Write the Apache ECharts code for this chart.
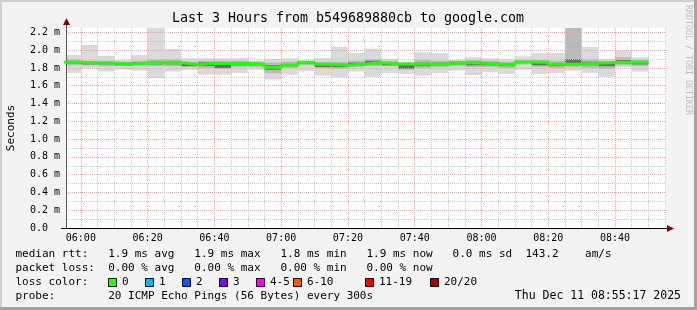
<!DOCTYPE html>
<html>
<head>
<meta charset="utf-8">
<script src="https://cdn.jsdelivr.net/npm/echarts@6/dist/echarts.min.js"></script>
<style>html,body{margin:0;padding:0;background:#f3f3f3}#c{width:697px;height:310px}</style>
</head>
<body>
<div id="c"></div>
<script>
// ---- data (ms) ----
const stepStart = ['05:55','06:00','06:05','06:10','06:15','06:20','06:25','06:30','06:35','06:40','06:45','06:50','06:55',
  '07:00','07:05','07:10','07:15','07:20','07:25','07:30','07:35','07:40','07:45','07:50','07:55',
  '08:00','08:05','08:10','08:15','08:20','08:25','08:30','08:35','08:40','08:45'];
const stepEnd = '08:50';
const median = [1.864,1.858,1.856,1.845,1.856,1.858,1.860,1.838,1.852,1.850,1.852,1.842,1.807,1.830,1.864,1.841,1.830,1.845,1.860,1.845,1.845,1.845,1.845,1.860,1.856,1.845,1.830,1.867,1.864,1.841,1.845,1.852,1.860,1.864,1.864];
const smokeMax = [1.946,2.058,1.935,1.890,1.946,2.250,2.013,1.909,1.909,1.909,1.909,1.882,1.900,1.909,1.882,1.909,2.036,1.968,2.017,1.900,1.871,1.976,1.968,1.890,1.920,1.909,1.900,1.930,1.968,1.968,2.250,2.036,1.900,1.995,1.920];
const smokeMin = [1.744,1.800,1.759,1.780,1.770,1.684,1.759,1.780,1.725,1.725,1.744,1.780,1.669,1.725,1.763,1.714,1.695,1.759,1.700,1.740,1.733,1.714,1.740,1.770,1.720,1.751,1.733,1.780,1.733,1.740,1.770,1.744,1.700,1.807,1.759];
const midHi = [1.900,1.880,1.880,1.870,1.880,1.900,1.900,1.870,1.880,1.880,1.880,1.870,1.860,1.870,1.880,1.870,1.870,1.880,1.900,1.880,1.860,1.890,1.880,1.880,1.890,1.880,1.870,1.890,1.890,1.880,2.250,1.900,1.880,1.920,1.890];
const midLo = [1.830,1.830,1.820,1.820,1.820,1.820,1.820,1.810,1.800,1.790,1.810,1.810,1.740,1.800,1.830,1.800,1.790,1.810,1.820,1.820,1.780,1.800,1.810,1.820,1.810,1.810,1.800,1.840,1.810,1.800,1.810,1.800,1.790,1.830,1.820];
const innerHi = [1.875,1.865,1.865,1.855,1.865,1.870,1.875,1.850,1.865,1.860,1.860,1.850,1.830,1.845,1.870,1.855,1.845,1.860,1.880,1.860,1.835,1.860,1.860,1.870,1.870,1.860,1.850,1.875,1.875,1.855,1.900,1.870,1.865,1.890,1.875];
const innerLo = [1.850,1.840,1.840,1.830,1.840,1.840,1.840,1.820,1.820,1.800,1.830,1.830,1.780,1.820,1.850,1.810,1.810,1.830,1.840,1.830,1.790,1.820,1.830,1.840,1.830,1.830,1.820,1.855,1.830,1.820,1.830,1.830,1.820,1.850,1.840];
const xTickLabels = ['06:00','06:20','06:40','07:00','07:20','07:40','08:00','08:20','08:40'];
const xGridTimes = ['06:00','06:05','06:10','06:15','06:20','06:25','06:30','06:35','06:40','06:45','06:50','06:55',
  '07:00','07:05','07:10','07:15','07:20','07:25','07:30','07:35','07:40','07:45','07:50','07:55',
  '08:00','08:05','08:10','08:15','08:20','08:25','08:30','08:35','08:40','08:45','08:50','08:55'];
const yTicks = [0,0.2,0.4,0.6,0.8,1.0,1.2,1.4,1.6,1.8,2.0,2.2];
const yGrid = [0,0.1,0.2,0.3,0.4,0.5,0.6,0.7,0.8,0.9,1.0,1.1,1.2,1.3,1.4,1.5,1.6,1.7,1.8,1.9,2.0,2.1,2.2];
const xRange = ['05:55:33','08:55:17'];
const yMax = 2.249;

// ---- helpers ----
function toMin(s){const p=s.split(':').map(Number);return p[0]*60+p[1]+(p[2]||0)/60;}
function fmtMin(v){const h=Math.floor(v/60+1e-6),m=Math.round(v-h*60);return String(h).padStart(2,'0')+':'+String(m).padStart(2,'0');}
const starts = stepStart.map(toMin);
const ends = starts.slice(1).concat([toMin(stepEnd)]);
function band(lo,hi){return starts.map((s,i)=>[s,ends[i],lo[i],hi[i]]);}
function rectRender(color){
  return function(params, api){
    const a = api.coord([api.value(0), api.value(3)]);
    const b = api.coord([api.value(1), api.value(2)]);
    return {type:'rect', shape:{x:a[0], y:a[1], width:b[0]-a[0], height:b[1]-a[1]}, style:{fill:color}};
  };
}
const medianData = starts.map((s,i)=>[s, median[i]]).concat([[ends[ends.length-1], median[median.length-1]]]);

const FONT = 'DejaVu Sans Mono';
const MGRID = '#f0a0a0';
const GRID = '#c8c8c8';
const xmin = toMin(xRange[0]), xmax = toMin(xRange[1]);

const chart = echarts.init(document.getElementById('c'), null, {renderer:'canvas'});
const L = 66, T = 28, W = 600, H = 200;

const lossItems = [
  {x:108.5, c:'#26ff00', t:'0'},
  {x:145.5, c:'#00b8ff', t:'1'},
  {x:182.5, c:'#0059ff', t:'2'},
  {x:219.5, c:'#7e00ff', t:'3'},
  {x:256.5, c:'#ff00ff', t:'4-5'},
  {x:293.5, c:'#ff5500', t:'6-10'},
  {x:365.5, c:'#ff0000', t:'11-19'},
  {x:430.5, c:'#a10000', t:'20/20'}
];
const graphics = [
  {type:'rect', shape:{x:0,y:0,width:697,height:2}, style:{fill:'#cfcfcf'}, silent:true},
  {type:'rect', shape:{x:0,y:0,width:2,height:310}, style:{fill:'#cfcfcf'}, silent:true},
  {type:'rect', shape:{x:694,y:0,width:3,height:310}, style:{fill:'#a2a2a2'}, silent:true},
  {type:'rect', shape:{x:0,y:307,width:697,height:3}, style:{fill:'#a2a2a2'}, silent:true},
  {type:'text', x:348, y:19, style:{text:'Last 3 Hours from b549689880cb to google.com', font:'13.3px "'+FONT+'"', fill:'#000', align:'center', verticalAlign:'middle'}},
  {type:'text', x:688, y:60, rotation:-Math.PI/2, style:{text:'RRDTOOL / TOBI OETIKER', font:'8.3px "'+FONT+'"', fill:'#bdbdbd', align:'center', verticalAlign:'middle'}},
  {type:'text', x:11, y:128, rotation:Math.PI/2, style:{text:'Seconds', font:'11px "'+FONT+'"', fill:'#000', align:'center', verticalAlign:'middle'}},
  // axis extensions & arrows
  {type:'line', shape:{x1:61, y1:228.5, x2:L, y2:228.5}, style:{stroke:'#000', lineWidth:1}, z:10},
  {type:'line', shape:{x1:L+W, y1:228.5, x2:670, y2:228.5}, style:{stroke:'#000', lineWidth:1}, z:10},
  {type:'line', shape:{x1:L+0.5, y1:T, x2:L+0.5, y2:21}, style:{stroke:'#555', lineWidth:1}, z:10},
  {type:'polygon', shape:{points:[[667,225],[674,228.5],[667,232]]}, style:{fill:'#8b0000'}, z:10},
  {type:'polygon', shape:{points:[[63,25],[66.5,18],[70,25]]}, style:{fill:'#8b0000'}, z:10},
  {type:'text', x:15.5, y:254, style:{text:'median rtt:   1.9 ms avg   1.9 ms max   1.8 ms min   1.9 ms now   0.0 ms sd  143.2    am/s', font:'11px "'+FONT+'"', fill:'#000', verticalAlign:'middle'}},
  {type:'text', x:15.5, y:268, style:{text:'packet loss:  0.00 % avg   0.00 % max   0.00 % min   0.00 % now', font:'11px "'+FONT+'"', fill:'#000', verticalAlign:'middle'}},
  {type:'text', x:15.5, y:282, style:{text:'loss color:', font:'11px "'+FONT+'"', fill:'#000', verticalAlign:'middle'}},
  {type:'text', x:15.5, y:296, style:{text:'probe:        20 ICMP Echo Pings (56 Bytes) every 300s', font:'11px "'+FONT+'"', fill:'#000', verticalAlign:'middle'}},
  {type:'text', x:681, y:296, style:{text:'Thu Dec 11 08:55:17 2025', font:'11.5px "'+FONT+'"', fill:'#000', align:'right', verticalAlign:'middle'}}
];
lossItems.forEach(it=>{
  graphics.push({type:'rect', shape:{x:it.x, y:278.5, width:8, height:8}, style:{fill:it.c, stroke:'#000', lineWidth:1}});
  graphics.push({type:'text', x:it.x+13.5, y:282, style:{text:it.t, font:'11px "'+FONT+'"', fill:'#000', verticalAlign:'middle'}});
});

const option = {
  backgroundColor:'#f3f3f3',
  animation:false,
  grid:{left:L, top:T, width:W, height:H, show:true, backgroundColor:'#ffffff', borderWidth:0, containLabel:false, outerBoundsMode:'none'},
  xAxis:{type:'value', min:xmin, max:xmax, z:3,
     axisLine:{show:true, lineStyle:{color:'#000', width:1}},
     axisTick:{show:false, customValues:xGridTimes.map(toMin)},
     axisLabel:{customValues:xTickLabels.map(toMin), formatter:fmtMin, color:'#000', fontFamily:FONT, fontSize:10, margin:5},
     splitLine:{show:true, showMinLine:true, showMaxLine:true, lineStyle:{color:[MGRID, GRID, GRID, GRID], type:[1,1], width:1}}},
  yAxis:{type:'value', min:0, max:yMax, z:3,
     axisLine:{show:true, lineStyle:{color:'#555', width:1}},
     axisTick:{show:false, customValues:yGrid},
     axisLabel:{customValues:yTicks, align:'left', margin:36, color:'#000', fontFamily:FONT, fontSize:10,
       formatter:v=> v===0 ? '0.0' : v.toFixed(1)+' m'},
     splitLine:{show:true, showMinLine:true, showMaxLine:true, lineStyle:{color:[MGRID, GRID], type:[1,1], width:1}}},
  series:[
    {type:'custom', name:'smoke-outer', z:2, clip:true, renderItem:rectRender('#dadada'), encode:{x:[0,1], y:[2,3]}, data:band(smokeMin, smokeMax)},
    {type:'custom', name:'smoke-mid', z:2, clip:true, renderItem:rectRender('#bababa'), encode:{x:[0,1], y:[2,3]}, data:band(midLo, midHi)},
    {type:'custom', name:'smoke-inner', z:2, clip:true, renderItem:rectRender('#6a6a6a'), encode:{x:[0,1], y:[2,3]}, data:band(innerLo, innerHi)},
    {type:'line', name:'median', z:4, step:'end', showSymbol:false, symbol:'none', clip:true,
     lineStyle:{color:'#22ff00', width:3}, data:medianData}
  ],
  graphic:graphics
};
chart.setOption(option);
</script>
</body>
</html>
